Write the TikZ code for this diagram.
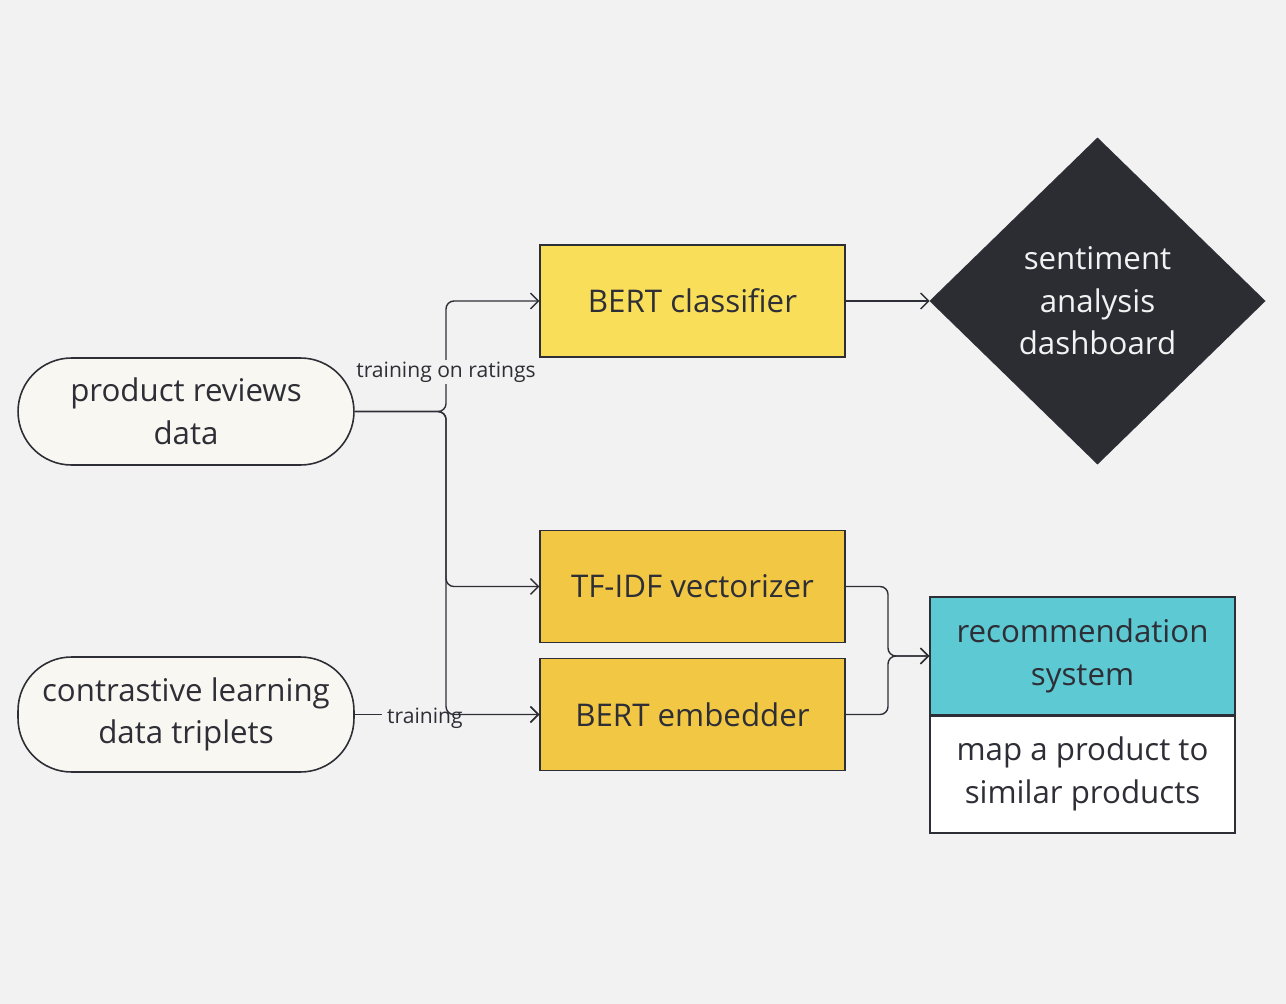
\documentclass[tikz,border=0pt]{standalone}
\usepackage{fontspec}
\setmainfont{Open Sans}
\usetikzlibrary{arrows.meta,shapes.geometric,positioning}
\definecolor{bgcol}{HTML}{F2F2F2}
\definecolor{inkcol}{HTML}{2E2E36}
\definecolor{creamcol}{HTML}{F9F7F1}
\definecolor{yellowA}{HTML}{F9DE5A}
\definecolor{yellowB}{HTML}{F2C744}
\definecolor{darkcol}{HTML}{2B2D33}
\definecolor{tealcol}{HTML}{5DC9D3}
\tikzset{
  boxtext/.style={text=inkcol, align=center, font=\fontsize{17.8}{24.2}\selectfont, execute at begin node={\vspace*{4.5pt}}},
  source/.style={boxtext, draw=inkcol, line width=0.9pt, fill=creamcol, rounded corners=1.07cm, minimum width=6.72cm},
  model/.style={boxtext, draw=inkcol, line width=0.8pt, minimum width=6.1cm, minimum height=2.25cm},
  output/.style={boxtext, draw=inkcol, line width=0.8pt, minimum width=6.1cm, minimum height=2.36cm},
  conn/.style={draw=inkcol, line width=0.8pt, rounded corners=4.5pt, -{Straight Barb[length=4.5pt,width=9pt]}},
  edgelabel/.style={text=inkcol, fill=bgcol, inner xsep=3pt, inner ysep=1pt, font=\fontsize{12}{14}\selectfont}
}

\begin{document}
\begin{tikzpicture}[x=0.02cm, y=-0.02cm]
		%%%%% START %%%%%
		
		\fill[bgcol] (0, 0) rectangle (1286, 1004);
		\useasboundingbox (0, 0) rectangle (1286, 1004);
		
		% data sources
		\node[source, minimum height=2.14cm] (reviews) at (186, 411.5) {product reviews\\data};
		\node[source, minimum height=2.3cm] (triplets) at (186, 714.5) {contrastive learning\\data triplets};
		
		% models
		\node[model, fill=yellowA, minimum height=2.24cm] (classifier) at (692.5, 301) {BERT classifier};
		\node[model, fill=yellowB] (tfidf) at (692.5, 586.5) {TF-IDF vectorizer};
		\node[model, fill=yellowB] (embedder) at (692.5, 714.5) {BERT embedder};
		
		% outputs
		\node[diamond, draw=inkcol, line width=0.6pt, fill=darkcol, text=bgcol, align=center, inner sep=0pt,
		      minimum width=6.7cm, minimum height=6.52cm, font=\fontsize{17.8}{24.2}\selectfont,
		      execute at begin node={\vspace*{4pt}}] (dashboard) at (1097.5, 301) {sentiment\\analysis\\dashboard};
		\node[output, fill=tealcol] (recsys) at (1082.5, 656) {recommendation\\system};
		\node[output, fill=white] (mapping) at (1082.5, 774) {map a product to\\similar products};
		\draw[inkcol, line width=2pt] (recsys.south west) -- (recsys.south east);
		
		% junctions
		\coordinate (split) at (446, 411.5);
		\coordinate (merge) at (888, 656);
		
		% connectors
		\draw[conn] (triplets.east) -- node[edgelabel, pos=0.38, yshift=-2pt] (trainlabel) {training} (embedder.west);
		\draw[conn] (reviews.east) -- (split) |- (classifier.west);
		\draw[conn] (reviews.east) -- (split) |- (tfidf.west);
		\draw[conn] (reviews.east) -- (split) |- (embedder.west);
		\node[edgelabel] (ratinglabel) at (446, 372) {training on ratings};
		\draw[conn] (classifier.east) -- (dashboard.west);
		\draw[conn] (tfidf.east) -| (merge) -- (recsys.west);
		\draw[conn] (embedder.east) -| (merge) -- (recsys.west);
		
		%%%%% END %%%%%
\end{tikzpicture}
\end{document}
